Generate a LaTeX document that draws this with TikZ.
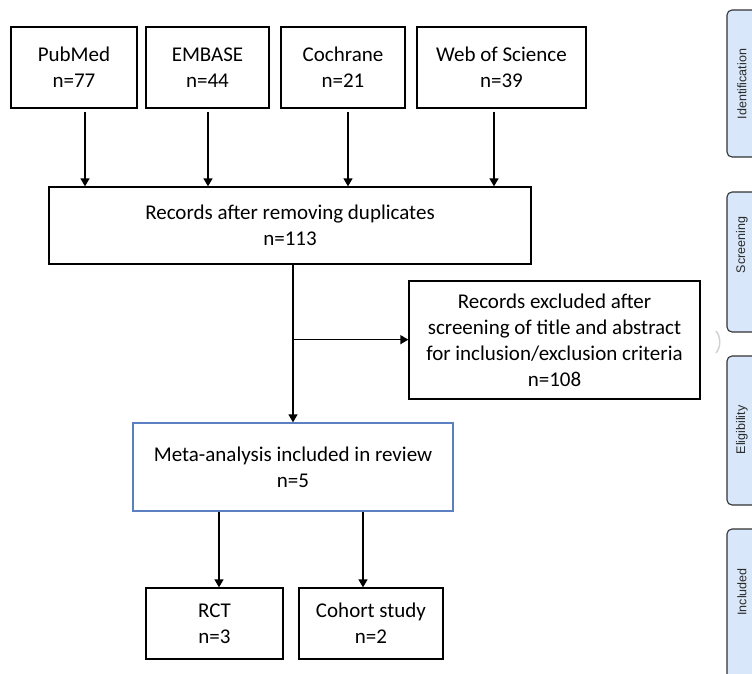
\documentclass[tikz,border=0pt]{standalone}
\usepackage{fontspec}
\setmainfont{Carlito}
\newfontfamily\tabfont{Liberation Sans}
\usetikzlibrary{arrows.meta}
\definecolor{metablue}{HTML}{5B7FC1}
\definecolor{tabfill}{HTML}{D8E7F9}
\definecolor{tabtext}{HTML}{2A2A2A}
\tikzset{
  box/.style={draw=black, line width=1.3pt, inner sep=0pt, align=center,
    font=\fontsize{21}{26}\selectfont},
  arr/.style={draw=black, line width=1.3pt, -{Triangle[width=9pt,length=8pt]}},
  tabbox/.style={draw=black!80, fill=tabfill, line width=1.1pt, rounded corners=5pt},
  tablabel/.style={rotate=90, text=tabtext, font=\tabfont\fontsize{12.5}{14}\selectfont, inner sep=0pt}
}
\begin{document}
\begin{tikzpicture}[x=1pt,y=-1pt]
\useasboundingbox (0,0) rectangle (752,673);
\clip (0,0) rectangle (752,673);
% source boxes
\node[box, minimum width=126pt, minimum height=81pt] (pm) at (74,67.5) {PubMed\\n=77};
\node[box, minimum width=123pt, minimum height=81pt] (em) at (207.5,67.5) {EMBASE\\n=44};
\node[box, minimum width=124pt, minimum height=81pt] (co) at (343,67.5) {Cochrane\\n=21};
\node[box, minimum width=169pt, minimum height=81pt] (ws) at (501.5,67.5) {Web of Science\\n=39};
% records
\node[box, minimum width=482pt, minimum height=77pt] (rec) at (290,225.5) {Records after removing duplicates\\n=113};
% excluded
\node[box, minimum width=291pt, minimum height=118pt] (exc) at (554.5,340) {Records excluded after\\screening of title and abstract\\for inclusion/exclusion criteria\\n=108};
% meta
\node[box, draw=metablue, minimum width=320pt, minimum height=88pt] (meta) at (293,467) {Meta-analysis included in review\\n=5};
% bottom
\node[box, minimum width=137pt, minimum height=71pt] (rct) at (214.5,623.5) {RCT\\n=3};
\node[box, minimum width=144pt, minimum height=71pt] (coh) at (371,623.5) {Cohort study\\n=2};
% connectors top
\draw[arr] ([xshift=11pt,yshift=-3pt]pm.south) -- ([xshift=11pt]pm.south |- rec.north);
\draw[arr] ([xshift=0.5pt,yshift=-3pt]em.south) -- ([xshift=0.5pt]em.south |- rec.north);
\draw[arr] ([xshift=5pt,yshift=-3pt]co.south) -- ([xshift=5pt]co.south |- rec.north);
\draw[arr] ([xshift=-7.5pt,yshift=-3pt]ws.south) -- ([xshift=-7.5pt]ws.south |- rec.north);
% main flow
\draw[arr] ([xshift=3pt]rec.south) -- ([xshift=3pt]rec.south |- meta.north);
\coordinate (branch) at ([xshift=3pt,yshift=-75pt]rec.south);
\draw[arr] (branch) -- (branch -| exc.west);
% meta to bottom
\draw[arr] ([xshift=-74pt]meta.south) -- ([xshift=-74pt]meta.south |- rct.north);
\draw[arr] ([xshift=70pt]meta.south) -- ([xshift=70pt]meta.south |- coh.north);
% side tabs
\draw[tabbox] (727,10) rectangle (770,157);
\node[tablabel] (t1) at (742,84) {Identification};
\draw[tabbox] (727,192) rectangle (770,332);
\node[tablabel] (t2) at (742,245) {Screening};
\draw[tabbox] (727,356) rectangle (770,505);
\node[tablabel] (t3) at (742,430) {Eligibility};
\draw[tabbox] (727,529) rectangle (770,700);
\node[tablabel] (t4) at (742,592) {Included};
% faint mark
\draw[black!18, line width=1.5pt] (716,331) .. controls (721,337) and (721,347) .. (716,353);
\end{tikzpicture}
\end{document}
